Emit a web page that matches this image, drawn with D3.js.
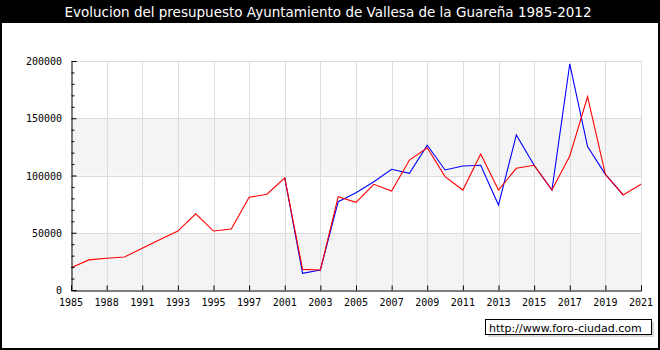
<!DOCTYPE html>
<html><head><meta charset="utf-8">
<script src="https://cdn.jsdelivr.net/npm/d3@7/dist/d3.min.js"></script>
<style>body{margin:0;background:#fff}svg{display:block}</style>
</head><body>
<svg id="c" width="660" height="350"></svg>
<script>
const title = "Evolucion del presupuesto Ayuntamiento de Vallesa de la Guareña 1985-2012";
const categories = [1985,1987,1988,1990,1991,1992,1993,1994,1995,1996,1997,1999,
  2001,2002,2003,2004,2005,2006,2007,2008,2009,2010,2011,2012,2013,2014,2015,2016,2017,2018,2019,2020,2021];
const tickLabels = [1985,1988,1991,1993,1995,1997,2001,2003,2005,2007,2009,2011,2013,2015,2017,2019,2021];
const redValues = [19500,26300,27700,28800,36500,44000,51500,66500,51500,53300,81000,83600,
  98000,18000,17500,81500,76600,92300,86500,113500,124300,99000,87300,118800,87300,106300,108900,87300,117000,168800,101000,83000,92300];
const blueValues = [null,null,null,null,null,null,null,null,null,null,null,null,
  98000,14500,17500,77100,85000,94600,105400,101900,126400,104800,108300,108900,74200,135400,108900,87300,197400,125200,101000,83000,null];
const yTicks = [0,50000,100000,150000,200000];
const yMinorTicks = [10000,20000,30000,40000,60000,70000,80000,90000,110000,120000,130000,140000,160000,170000,180000,190000];
const credit = "http://www.foro-ciudad.com";

const svg = d3.select("#c");
// frame
svg.append("rect").attr("x",0).attr("y",0).attr("width",660).attr("height",350).attr("fill","#000");
svg.append("rect").attr("x",2).attr("y",23).attr("width",656).attr("height",325).attr("fill","#fff");
svg.append("text").attr("x",328).attr("y",17).attr("text-anchor","middle")
  .attr("fill","#fff").style("font-family","DejaVu Sans").style("font-size","13.5px").text(title);

const x = d3.scalePoint().domain(categories).range([71,641]);
const y = d3.scaleLinear().domain([0,200000]).range([290,61]);

// bands
const bands = [[0,50000],[100000,150000]];
svg.selectAll(".band").data(bands).enter().append("rect")
  .attr("x",71).attr("width",570)
  .attr("y",d=>y(d[1])).attr("height",d=>y(d[0])-y(d[1]))
  .attr("fill","#f4f4f4");

// grid
svg.selectAll(".hg").data(yTicks.slice(1)).enter().append("line")
  .attr("x1",71).attr("x2",641)
  .attr("y1",d=>Math.round(y(d))+0.5).attr("y2",d=>Math.round(y(d))+0.5)
  .attr("stroke","#dddddd");
svg.selectAll(".vg").data(tickLabels.slice(1)).enter().append("line")
  .attr("x1",d=>Math.round(x(d))+0.5).attr("x2",d=>Math.round(x(d))+0.5)
  .attr("y1",61).attr("y2",290)
  .attr("stroke","#dddddd");

// lines
const line = d3.line().defined(d=>d[1]!=null).x(d=>x(d[0])).y(d=>y(d[1]));
svg.append("path").datum(categories.map((c,i)=>[c,blueValues[i]]))
  .attr("d",line).attr("fill","none").attr("stroke","#0000ff").attr("stroke-width",1.1);
svg.append("path").datum(categories.map((c,i)=>[c,redValues[i]]))
  .attr("d",line).attr("fill","none").attr("stroke","#ff0000").attr("stroke-width",1.1);

// y axis
const fontAxis = "DejaVu Sans Mono";
const yAxis = d3.axisRight(y).tickValues(yTicks).tickSize(5).tickFormat("");
const gy = svg.append("g").attr("transform","translate(71.5,0)").call(yAxis);
const yAxisMinor = d3.axisRight(y).tickValues(yMinorTicks).tickSize(3).tickFormat("");
svg.append("g").attr("transform","translate(71.5,0)").call(yAxisMinor).select(".domain").remove();
svg.selectAll("g .domain").attr("stroke","#000");
svg.selectAll("g .tick line").attr("stroke","#000");
svg.selectAll(".ylab").data(yTicks).enter().append("text")
  .attr("x",62).attr("y",d=>y(d)+4).attr("text-anchor","end")
  .style("font-family",fontAxis).style("font-size","10px").attr("fill","#000")
  .text(d=>d);

// x axis
const xAxis = d3.axisTop(x).tickValues(tickLabels).tickSize(5).tickFormat("");
const gx = svg.append("g").attr("transform","translate(0,290.5)").call(xAxis);
gx.select(".domain").attr("stroke","#000");
gx.selectAll(".tick line").attr("stroke","#000");
svg.selectAll(".xlab").data(tickLabels).enter().append("text")
  .attr("x",d=>x(d)).attr("y",306).attr("text-anchor","middle")
  .style("font-family",fontAxis).style("font-size","10px").attr("fill","#000")
  .text(d=>d);

// credit box
svg.append("rect").attr("x",488).attr("y",322).attr("width",166).attr("height",15).attr("fill","#d8d8d8");
svg.append("rect").attr("x",485.5).attr("y",319.5).attr("width",166).attr("height",15).attr("fill","#fff").attr("stroke","#000");
svg.append("text").attr("x",489).attr("y",331.5)
  .style("font-family","DejaVu Sans").style("font-size","11px").attr("fill","#000").text(credit);
</script>
</body></html>
